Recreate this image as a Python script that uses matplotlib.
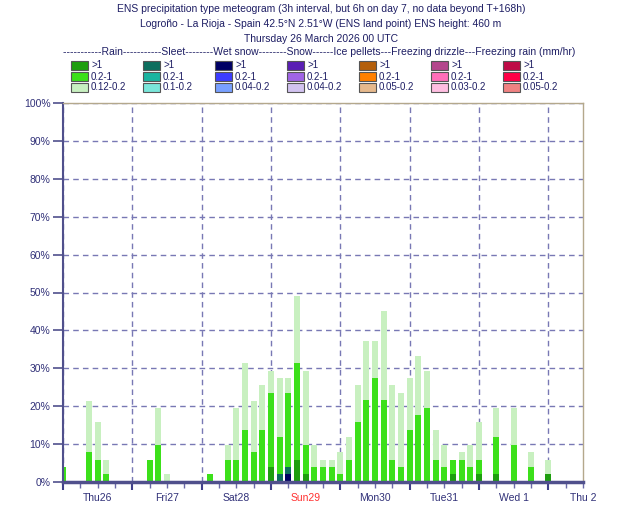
import matplotlib
matplotlib.use("Agg")
import matplotlib.pyplot as plt
from matplotlib.patches import Rectangle

plt.rcParams['font.family'] = ['Liberation Sans', 'DejaVu Sans']

# time steps (hours from base time): 3h to T+144, then 6h
times = list(range(0, 145, 3)) + [150, 156, 162, 168]

# percentage of members per category (layer thickness, %)
wetsnow_heavy = [0]*26 + [2.0] + [0]*26
sleet_heavy = [0]*25 + [2.0, 2.0] + [0]*26
rain_heavy = ([0]*24 + [3.9, 0, 0, 5.9, 2.0] + [0]*16 + [2.0, 0, 0, 2.0, 2.0, 0, 0, 2.0])
rain_mod = [3.9, 0, 0, 7.8, 5.9, 2.0, 0, 0, 0, 0, 5.9, 9.8, 0, 0, 0, 0, 0, 2.0, 0,
            5.9, 5.9, 13.7, 7.8, 13.7, 19.6, 9.8, 19.6, 25.5, 7.8, 3.9, 3.9, 3.9,
            2.0, 5.9, 15.7, 21.6, 27.5, 21.6, 5.9, 3.9, 13.7, 17.6, 19.6, 5.9, 3.9,
            3.9, 5.9, 3.9, 3.9, 9.8, 9.8, 3.9, 0]
rain_light = [0, 0, 0, 13.7, 9.8, 3.9, 0, 0, 0, 0, 0, 9.8, 2.0, 0, 0, 0, 0, 0, 0,
              3.9, 13.7, 17.6, 13.7, 11.8, 5.9, 15.7, 3.9, 17.6, 19.6, 5.9, 2.0, 2.0,
              5.9, 5.9, 9.8, 15.7, 9.8, 23.5, 19.6, 19.6, 13.7, 15.7, 9.8, 7.8, 5.9,
              0, 2.0, 5.9, 9.8, 7.8, 9.8, 3.9, 3.9]

day_labels = ['Thu26', 'Fri27', 'Sat28', 'Sun29', 'Mon30', 'Tue31', 'Wed 1', 'Thu 2']

ptypes = ['Rain', 'Sleet', 'Wet snow', 'Snow', 'Ice pellets', 'Freezing drizzle', 'Freezing rain']
ptype_colors = [
    ['#1e9e0e', '#3ce01a', '#c8f0c0'],
    ['#0c6e5e', '#1ab4a0', '#7ae6da'],
    ['#000064', '#3c3cff', '#78a0ff'],
    ['#5a1eb4', '#a064e6', '#d2c3f0'],
    ['#b45f0a', '#ff8000', '#e6b98c'],
    ['#b4468c', '#ff6eb9', '#ffbee1'],
    ['#be0a46', '#ff0046', '#f08282'],
]
ptype_thresh = [
    ['>1', '0.2-1', '0.12-0.2'],
    ['>1', '0.2-1', '0.1-0.2'],
    ['>1', '0.2-1', '0.04-0.2'],
    ['>1', '0.2-1', '0.04-0.2'],
    ['>1', '0.2-1', '0.05-0.2'],
    ['>1', '0.2-1', '0.03-0.2'],
    ['>1', '0.2-1', '0.05-0.2'],
]

navy = '#303078'
W, H = 630, 525
fig = plt.figure(figsize=(W/100, H/100), dpi=100)
ax = fig.add_axes([63/W, 1 - 482/H, 520/W, 379/H])

# stacked bars, bottom to top
layers = [(wetsnow_heavy, ptype_colors[2][0]), (sleet_heavy, ptype_colors[1][0]),
          (rain_heavy, ptype_colors[0][0]), (rain_mod, ptype_colors[0][1]),
          (rain_light, ptype_colors[0][2])]
bottom = [0.0]*len(times)
for vals, col in layers:
    ax.bar(times, vals, width=2.0, bottom=bottom, color=col, linewidth=0, zorder=2)
    bottom = [b + v for b, v in zip(bottom, vals)]

ax.set_xlim(0, 180)
ax.set_ylim(0, 100)
ax.set_axisbelow(True)

ax.set_xticks(range(0, 169, 24))
ax.set_xticklabels([])
minor = [t for t in range(6, 181, 6) if t % 24 != 0]
minor_lab = [day_labels[(t - 12)//24] if t % 24 == 12 else '' for t in minor]
ax.set_xticks(minor, minor_lab, minor=True)
ax.tick_params(axis='x', which='major', length=6, width=1.5, color='#40408a')
ax.tick_params(axis='x', which='minor', length=4, width=1, color='#6a6aa8',
               labelsize=7.5, labelcolor=navy, pad=4)
for lab in ax.get_xticklabels(minor=True):
    if lab.get_text() == 'Sun29':
        lab.set_color('#ff3030')

ax.set_yticks(range(0, 101, 10))
ax.set_yticklabels([f'{v}%' for v in range(0, 101, 10)])
ax.tick_params(axis='y', length=7, width=1.2, color='#50508c', labelsize=7.5,
               labelcolor=navy, pad=2)

ax.grid(True, axis='y', linestyle=(0, (4, 3)), color='#7878b4', linewidth=1)
ax.grid(True, axis='x', which='major', linestyle=(0, (4, 3)), color='#7878b4', linewidth=1)

ax.spines['left'].set_color('#50508c')
ax.spines['left'].set_linewidth(1.5)
ax.spines['bottom'].set_color('#50508c')
ax.spines['bottom'].set_linewidth(2.5)
for s in ['top', 'right']:
    ax.spines[s].set_color('#b4a88c')
    ax.spines[s].set_linewidth(1)

# header and legend in pixel coordinates
ov = fig.add_axes([0, 0, 1, 1], zorder=5)
ov.set_xlim(0, W)
ov.set_ylim(H, 0)
ov.axis('off')

title_col = '#1e1e64'
titles = ['ENS precipitation type meteogram (3h interval, but 6h on day 7, no data beyond T+168h)',
          'Logroño - La Rioja - Spain 42.5°N 2.51°W (ENS land point) ENS height: 460 m',
          'Thursday 26 March 2026 00 UTC']
for i, t in enumerate(titles):
    ov.text(321, 9 + 15*i, t, ha='center', va='center', fontsize=7.5, color=title_col)

header = ('-----------Rain-----------Sleet--------Wet snow--------Snow------'
          'Ice pellets---Freezing drizzle---Freezing rain (mm/hr)')
ov.text(319, 52, header, ha='center', va='center', fontsize=7.5, color=title_col)

for c in range(len(ptypes)):
    x0 = 71 + 72*c
    for r in range(3):
        y0 = 61 + 11*r
        ov.add_patch(Rectangle((x0, y0), 17, 8.5, facecolor=ptype_colors[c][r],
                               edgecolor='#555555', linewidth=0.8))
        ov.text(x0 + 20, y0 + 4.5, ptype_thresh[c][r], ha='left', va='center',
                fontsize=7, color=title_col)

fig.savefig('out.png', dpi=100)
